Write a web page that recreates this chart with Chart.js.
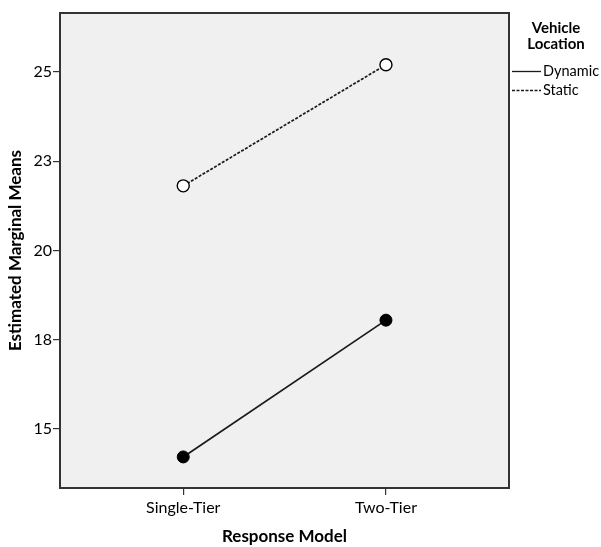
<!DOCTYPE html>
<html>
<head>
<meta charset="utf-8">
<script src="https://cdn.jsdelivr.net/npm/chart.js@4.4.1/dist/chart.umd.min.js"></script>
<style>
  html, body { margin: 0; padding: 0; background: #ffffff; }
  #wrap { width: 601px; height: 547px; }
</style>
</head>
<body>
<div id="wrap"><canvas id="c" width="601" height="547"></canvas></div>
<script>
// Response model categories (x positions 0 and 1)
const categories = ['Single-Tier', 'Two-Tier'];
// Estimated marginal means per vehicle location
const dynamicMeans = [14.22, 18.05];
const staticMeans = [21.81, 25.20];
// Y tick values (labels are shown rounded to whole numbers)
const yTickValues = [15, 17.5, 20, 22.5, 25];
const legendTitle = ['Vehicle', 'Location'];
const seriesNames = ['Dynamic', 'Static'];

const FONT = 'Lato, "Liberation Sans", sans-serif';
const INK = '#1a1a1a';

// Grey plot background with a full frame around it
const frame = {
  id: 'frame',
  beforeDraw(chart) {
    const { ctx, chartArea: a } = chart;
    ctx.save();
    ctx.fillStyle = '#f0f0f0';
    ctx.fillRect(a.left, a.top, a.right - a.left, a.bottom - a.top);
    ctx.restore();
  },
  afterDraw(chart) {
    const { ctx, chartArea: a } = chart;
    ctx.save();
    ctx.strokeStyle = '#333333';
    ctx.lineWidth = 2;
    ctx.strokeRect(a.left, a.top, a.right - a.left, a.bottom - a.top);
    ctx.restore();
  }
};

// Legend block to the right of the plot
const sideLegend = {
  id: 'sideLegend',
  afterDraw(chart) {
    const { ctx, chartArea: a } = chart;
    ctx.save();
    ctx.fillStyle = '#000';
    ctx.font = 'bold 15px ' + FONT;
    ctx.textAlign = 'center';
    ctx.textBaseline = 'middle';
    ctx.fillText(legendTitle[0], 556, 28);
    ctx.fillText(legendTitle[1], 556, 44);
    ctx.font = '14.5px ' + FONT;
    ctx.textAlign = 'left';
    const rows = [71, 90];
    chart.data.datasets.forEach((ds, i) => {
      const y = rows[i];
      ctx.strokeStyle = INK;
      ctx.lineWidth = 1.3;
      ctx.setLineDash(ds.borderDash || []);
      ctx.beginPath();
      ctx.moveTo(a.right + 3, y + 0.5);
      ctx.lineTo(a.right + 32, y + 0.5);
      ctx.stroke();
      ctx.setLineDash([]);
      ctx.fillStyle = '#000';
      ctx.fillText(ds.label, a.right + 34, y);
    });
    ctx.restore();
  }
};

const toPoints = vals => vals.map((v, i) => ({ x: i, y: v }));

new Chart(document.getElementById('c'), {
  type: 'line',
  data: {
    datasets: [
      {
        label: seriesNames[0],
        data: toPoints(dynamicMeans),
        borderColor: INK,
        borderWidth: 1.7,
        pointRadius: 6,
        pointBackgroundColor: '#000',
        pointBorderColor: '#000',
        pointBorderWidth: 1,
        tension: 0
      },
      {
        label: seriesNames[1],
        data: toPoints(staticMeans),
        borderColor: INK,
        borderWidth: 1.7,
        borderDash: [3, 1.5],
        pointRadius: 6,
        pointBackgroundColor: '#ffffff',
        pointBorderColor: '#000',
        pointBorderWidth: 1.4,
        tension: 0
      }
    ]
  },
  options: {
    responsive: false,
    animation: false,
    layout: { padding: { top: 13, right: 92, bottom: 0, left: 0 } },
    plugins: { legend: { display: false }, tooltip: { enabled: false } },
    scales: {
      x: {
        type: 'linear',
        min: -0.608,
        max: 1.607,
        afterBuildTicks(scale) { scale.ticks = categories.map((_, i) => ({ value: i })); },
        afterFit(scale) { scale.height = 59; },
        ticks: {
          callback: v => categories[v],
          color: '#000',
          font: { family: FONT, size: 16 },
          padding: 3,
          maxRotation: 0
        },
        grid: { drawOnChartArea: false, tickLength: 7, color: '#333', lineWidth: 1.2 },
        border: { display: false },
        title: {
          display: true,
          text: 'Response Model',
          color: '#000',
          font: { family: FONT, size: 17, weight: 'bold' },
          padding: { top: 10, bottom: 0 }
        }
      },
      y: {
        min: 13.35,
        max: 26.65,
        afterBuildTicks(scale) { scale.ticks = yTickValues.map(v => ({ value: v })); },
        afterFit(scale) { scale.width = 60; },
        ticks: {
          callback: v => String(Math.round(v)),
          color: '#000',
          font: { family: FONT, size: 16 },
          padding: 1
        },
        grid: { drawOnChartArea: false, tickLength: 7, color: '#333', lineWidth: 1.2 },
        border: { display: false },
        title: {
          display: true,
          text: 'Estimated Marginal Means',
          color: '#000',
          font: { family: FONT, size: 17, weight: 'bold' },
          padding: { top: 5, bottom: 4 }
        }
      }
    }
  },
  plugins: [frame, sideLegend]
});
</script>
</body>
</html>
